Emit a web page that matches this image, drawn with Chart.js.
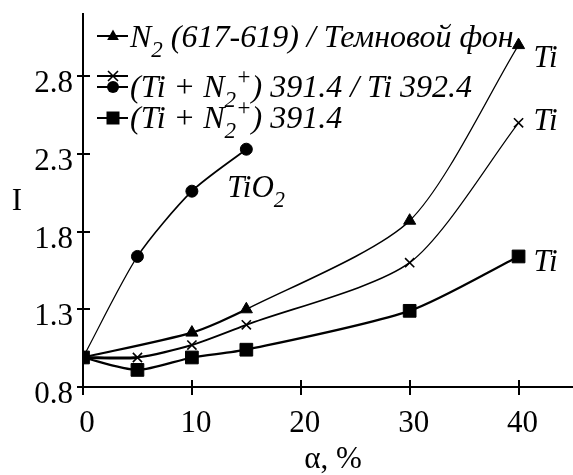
<!DOCTYPE html>
<html>
<head>
<meta charset="utf-8">
<script src="https://cdn.jsdelivr.net/npm/chart.js@4"></script>
<style>
  html, body { margin: 0; padding: 0; background: #fff; }
  #wrap { width: 573px; height: 475px; position: relative; }
</style>
</head>
<body>
<div id="wrap"><canvas id="chart"></canvas></div>
<script>
// values
const triAlpha = [0, 10, 15, 30, 40];
const triI     = [0.99, 1.15, 1.30, 1.87, 3.00];
const crossAlpha = [0, 5, 10, 15, 30, 40];
const crossI     = [0.99, 0.99, 1.07, 1.20, 1.60, 2.50];
const dotAlpha = [0, 5, 10, 15];
const dotI     = [0.99, 1.64, 2.06, 2.33];
const sqAlpha = [0, 5, 10, 15, 30, 40];
const sqI     = [0.99, 0.91, 0.99, 1.04, 1.29, 1.64];

const xTicks = [0, 10, 20, 30, 40];
const yTicks = [0.8, 1.3, 1.8, 2.3, 2.8];

// rich text pieces: [text, 'sub' | 'sup' | '']
const legendRows = [
  [['N', ''], ['2', 'sub'], [' (617-619) / Темновой фон', '']],
  [['(Ti + N', ''], ['2', 'sub'], ['+', 'sup'], [') 391.4 / Ti 392.4', '']],
  [['(Ti + N', ''], ['2', 'sub'], ['+', 'sup'], [') 391.4', '']]
];

const SERIF = '"Liberation Serif", "DejaVu Serif", serif';
const pts = (xs, ys) => xs.map((x, i) => ({ x: x, y: ys[i] }));

function drawMarker(ctx, style, x, y, r) {
  ctx.save();
  ctx.fillStyle = '#000';
  ctx.strokeStyle = '#000';
  ctx.beginPath();
  if (style === 'triangle') {
    ctx.moveTo(x, y - r);
    ctx.lineTo(x + r * 0.9, y + r * 0.6);
    ctx.lineTo(x - r * 0.9, y + r * 0.6);
    ctx.closePath();
    ctx.fill();
  } else if (style === 'circle') {
    ctx.arc(x, y, r, 0, Math.PI * 2);
    ctx.fill();
  } else if (style === 'rect') {
    ctx.rect(x - r, y - r, 2 * r, 2 * r);
    ctx.fill();
  } else if (style === 'cross') {
    ctx.lineWidth = 1.6;
    ctx.moveTo(x - r, y - r); ctx.lineTo(x + r, y + r);
    ctx.moveTo(x + r, y - r); ctx.lineTo(x - r, y + r);
    ctx.stroke();
  }
  ctx.restore();
}

function richText(ctx, pieces, x, y, size) {
  let cx = x;
  pieces.forEach(([t, kind]) => {
    let s = size, dy = 0;
    if (kind === 'sub') { s = size * 0.72; dy = size * 0.3; }
    if (kind === 'sup') { s = size * 0.72; dy = -size * 0.4; }
    ctx.font = 'italic ' + s + 'px ' + SERIF;
    ctx.fillText(t, cx, y + dy);
    cx += ctx.measureText(t).width;
  });
}

const decorPlugin = {
  id: 'decor',
  afterDraw(chart) {
    const ctx = chart.ctx;
    const xs = chart.scales.x, ys = chart.scales.y;
    const x0 = xs.left, y0 = ys.bottom;
    ctx.save();
    ctx.strokeStyle = '#000';
    ctx.fillStyle = '#000';
    // tick marks crossing the axes
    ctx.lineWidth = 2;
    ys.ticks.forEach(t => {
      const p = Math.round(ys.getPixelForValue(t.value));
      ctx.beginPath(); ctx.moveTo(x0 - 6, p); ctx.lineTo(x0 + 7, p); ctx.stroke();
    });
    xs.ticks.forEach(t => {
      const p = Math.round(xs.getPixelForValue(t.value));
      ctx.beginPath(); ctx.moveTo(p, y0 - 7); ctx.lineTo(p, y0 + 8); ctx.stroke();
    });

    // axis titles
    ctx.textAlign = 'center';
    ctx.textBaseline = 'alphabetic';
    ctx.font = '31px ' + SERIF;
    ctx.fillText('I', 17, 210);
    ctx.fillText('α, %', 333, 468);

    // legend
    ctx.textAlign = 'left';
    const sample = (y, style, r) => {
      ctx.lineWidth = 2;
      ctx.beginPath(); ctx.moveTo(97, y); ctx.lineTo(128, y); ctx.stroke();
      drawMarker(ctx, style, 113, y, r);
    };
    sample(36, 'triangle', 6.5);
    sample(76, 'cross', 5);
    sample(87, 'circle', 6);
    sample(118, 'rect', 6.5);
    richText(ctx, legendRows[0], 130, 47, 32);
    richText(ctx, legendRows[1], 130, 97, 32);
    richText(ctx, legendRows[2], 130, 128, 32);

    // curve labels next to the last points
    const lab = (pieces, xv, yv, dx, dy) => {
      richText(ctx, pieces, xs.getPixelForValue(xv) + dx, ys.getPixelForValue(yv) + dy, 31);
    };
    lab([['Ti', '']], triAlpha[4], triI[4], 15, 22);
    lab([['Ti', '']], crossAlpha[5], crossI[5], 15, 7);
    lab([['Ti', '']], sqAlpha[5], sqI[5], 15, 15);
    lab([['TiO', ''], ['2', 'sub']], dotAlpha[3], dotI[3], -19, 48);
    ctx.restore();
  }
};

const widths = (arr) => ({ borderWidth: c => arr[c.p0DataIndex] });

const ds = (data, style, r, segW, bw) => ({
  data: data,
  borderColor: '#000',
  backgroundColor: '#000',
  pointBackgroundColor: '#000',
  pointBorderColor: '#000',
  pointStyle: style,
  pointRadius: r,
  pointBorderWidth: bw,
  tension: 0.25,
  borderWidth: 2,
  segment: widths(segW)
});

new Chart(document.getElementById('chart'), {
  type: 'line',
  data: {
    datasets: [
      ds(pts(triAlpha, triI), 'triangle', 7, [2.2, 2.2, 1.6, 1.2], 1),
      ds(pts(crossAlpha, crossI), 'crossRot', 6.5, [3, 2.2, 2, 1.6, 1.2], 1.6),
      ds(pts(dotAlpha, dotI), 'circle', 6, [1.2, 1.6, 1.8], 1),
      ds(pts(sqAlpha, sqI), 'rect', 9, [2.2, 2.2, 2.2, 2.2, 2.2], 1)
    ]
  },
  options: {
    responsive: true,
    maintainAspectRatio: false,
    animation: false,
    layout: { autoPadding: false, padding: { top: 14, right: 0, left: 0, bottom: 0 } },
    plugins: { legend: { display: false }, tooltip: { enabled: false } },
    scales: {
      x: {
        type: 'linear',
        min: 0, max: 45,
        afterBuildTicks: s => { s.ticks = xTicks.map(v => ({ value: v })); },
        afterFit: s => { s.height = 88; s.paddingLeft = 0; s.paddingRight = 0; },
        grid: { drawOnChartArea: false, drawTicks: false },
        border: { color: '#000', width: 2 },
        ticks: { color: '#000', font: { family: SERIF, size: 31 }, padding: 18, labelOffset: 4, maxRotation: 0 }
      },
      y: {
        type: 'linear',
        min: 0.8, max: 3.2,
        afterBuildTicks: s => { s.ticks = yTicks.map(v => ({ value: v })); },
        afterFit: s => { s.width = 83; s.paddingTop = 0; s.paddingBottom = 0; },
        grid: { drawOnChartArea: false, drawTicks: false },
        border: { color: '#000', width: 2 },
        ticks: { color: '#000', font: { family: SERIF, size: 31 }, padding: 10, labelOffset: 8,
                 callback: v => v.toFixed(1) }
      }
    }
  },
  plugins: [decorPlugin]
});
</script>
</body>
</html>
